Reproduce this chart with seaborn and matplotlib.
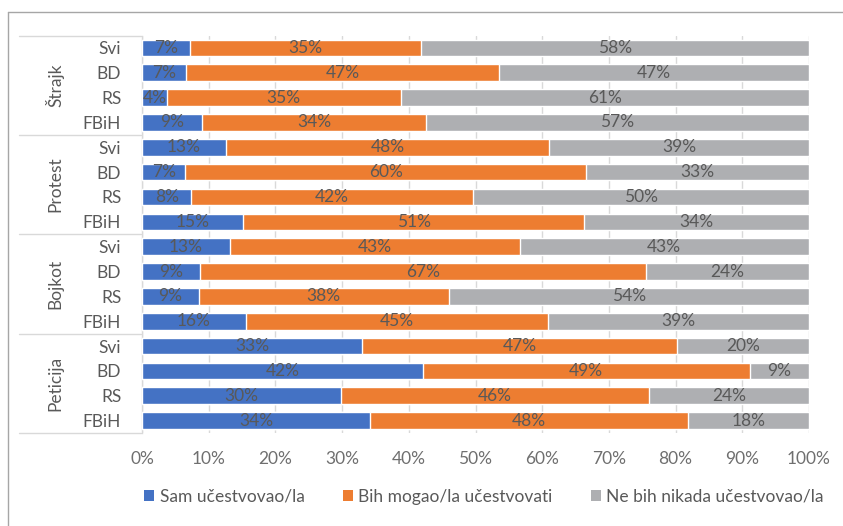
import matplotlib
matplotlib.use("Agg")
import matplotlib.pyplot as plt
import seaborn as sns
import pandas as pd
from matplotlib.lines import Line2D
from matplotlib.patches import Patch
from matplotlib.transforms import blended_transform_factory

# ---------------- data ----------------
groups = ["Štrajk", "Protest", "Bojkot", "Peticija"]
subgroups = ["Svi", "BD", "RS", "FBiH"]
series_names = ["Sam učestvovao/la", "Bih mogao/la učestvovati", "Ne bih nikada učestvovao/la"]

sam = [7.2, 6.6, 3.7, 9.0, 12.6, 6.5, 7.4, 15.2, 13.2, 8.7, 8.5, 15.6, 33.0, 42.1, 29.8, 34.2]
bih = [34.6, 46.9, 35.1, 33.6, 48.4, 60.1, 42.2, 51.1, 43.4, 66.9, 37.5, 45.2, 47.2, 49.0, 46.2, 47.7]
ne = [58.2, 46.5, 61.2, 57.4, 39.0, 33.4, 50.4, 33.7, 43.4, 24.4, 54.0, 39.2, 19.8, 8.9, 24.0, 18.1]

lab_sam = ["7%", "7%", "4%", "9%", "13%", "7%", "8%", "15%", "13%", "9%", "9%", "16%", "33%", "42%", "30%", "34%"]
lab_bih = ["35%", "47%", "35%", "34%", "48%", "60%", "42%", "51%", "43%", "67%", "38%", "45%", "47%", "49%", "46%", "48%"]
lab_ne = ["58%", "47%", "61%", "57%", "39%", "33%", "50%", "34%", "43%", "24%", "54%", "39%", "20%", "9%", "24%", "18%"]

x_ticks = [0, 10, 20, 30, 40, 50, 60, 70, 80, 90, 100]
x_ticklabels = [f"{t}%" for t in x_ticks]

# ---------------- style ----------------
sns.set_theme(style="white")
plt.rcParams["font.family"] = ["Lato", "DejaVu Sans"]
TXT = "#595959"
TICK = "#6F6F6F"
C_BLUE, C_ORANGE, C_GRAY = "#4472C4", "#ED7D31", "#AEAFB2"
FS = 12.5

rows = [f"{g}|{s}" for g in groups for s in subgroups]
df = pd.DataFrame({
    "row": rows,
    "c1": sam,
    "c2": [a + b for a, b in zip(sam, bih)],
    "c3": [a + b + c for a, b, c in zip(sam, bih, ne)],
})

W, H = 843, 526
fig = plt.figure(figsize=(W / 100, H / 100), dpi=100)
ax = fig.add_axes([142 / W, 1 - 433 / H, (809 - 142) / W, (433 - 35.5) / H])

bw = 0.67
sns.barplot(data=df, x="c3", y="row", order=rows, color=C_GRAY, orient="h",
            width=bw, saturation=1, ax=ax, zorder=2)
sns.barplot(data=df, x="c2", y="row", order=rows, color=C_ORANGE, orient="h",
            width=bw, saturation=1, ax=ax, zorder=3)
sns.barplot(data=df, x="c1", y="row", order=rows, color=C_BLUE, orient="h",
            width=bw, saturation=1, ax=ax, zorder=4)

# data labels
for i in range(len(rows)):
    lefts = [0, sam[i], sam[i] + bih[i]]
    vals = [sam[i], bih[i], ne[i]]
    labs = [lab_sam[i], lab_bih[i], lab_ne[i]]
    for l, v, t in zip(lefts, vals, labs):
        ax.text(l + v / 2, i, t, ha="center", va="center", color=TXT,
                fontsize=FS, zorder=6)

ax.set_xlim(0, 100)
ax.set_ylim(len(rows) - 0.5, -0.5)
ax.set_xticks(x_ticks)
ax.set_xticklabels(x_ticklabels, color=TICK, fontsize=FS)
ax.set_yticks(range(len(rows)))
ax.set_yticklabels([s for g in groups for s in subgroups], color=TXT, fontsize=FS)
ax.tick_params(axis="x", length=0, pad=13)
ax.tick_params(axis="y", length=0, pad=15)
ax.set_xlabel("")
ax.set_ylabel("")
ax.grid(axis="x", color="#D9D9D9", linewidth=1, zorder=0)
ax.set_axisbelow(True)
for s in ["top", "right", "bottom"]:
    ax.spines[s].set_visible(False)
ax.spines["left"].set_color("#D9D9D9")
ax.spines["left"].set_linewidth(1)

# group separators and labels
bt = blended_transform_factory(fig.transFigure, ax.transData)
for b in [-0.5, 3.5, 7.5, 11.5, 15.5]:
    fig.add_artist(Line2D([19 / W, 141 / W], [b, b], transform=bt,
                          color="#D9D9D9", linewidth=1))
for gi, g in enumerate(groups):
    fig.text(55 / W, gi * 4 + 1.5, g, transform=bt, rotation=90, ha="center",
             va="center", color=TXT, fontsize=FS)

# outer frame (partial)
fig.add_artist(Line2D([8 / W, 8 / W], [0, 1 - 12 / H], transform=fig.transFigure,
                      color="#A6A6A6", linewidth=1))
fig.add_artist(Line2D([8 / W, 1], [1 - 12 / H, 1 - 12 / H], transform=fig.transFigure,
                      color="#A6A6A6", linewidth=1))

handles = [Patch(facecolor=c, edgecolor="none") for c in (C_BLUE, C_ORANGE, C_GRAY)]
leg = fig.legend(handles, series_names, loc="center", ncol=3, frameon=False,
                 bbox_to_anchor=(484 / W, 1 - 497 / H), fontsize=FS,
                 handlelength=0.6, handleheight=0.6, handletextpad=0.3,
                 columnspacing=2.2)
for t in leg.get_texts():
    t.set_color(TXT)

fig.savefig("out.png", dpi=100)
